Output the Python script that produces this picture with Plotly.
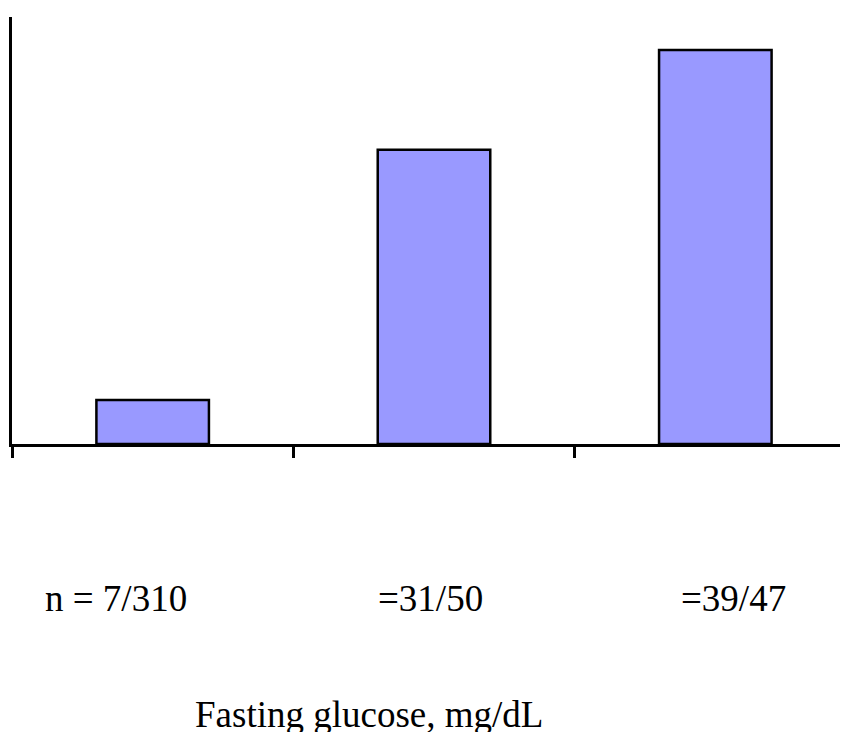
import plotly.graph_objects as go

categories = [0, 1, 2]
values = [10.3, 68.9, 92.3]
group_labels = ["n = 7/310", "=31/50", "=39/47"]
x_title = "Fasting glucose, mg/dL"

# page body has an 8px margin; figure is sized to fill the rest of the window
OFF = 8
W, H = 848 - OFF, 732 - OFF
L, R, T, B = 12 - OFF, 0, 17 - OFF, 288
cat_px = 281.33
plot_w = W - L - R
plot_h = H - T - B


def px_x(page_x):
    return (page_x - OFF - L) / plot_w


def px_y(page_y):
    return (T + plot_h - (page_y - OFF)) / plot_h


fig = go.Figure()
fig.add_trace(go.Bar(
    x=categories, y=values, width=0.4,
    marker=dict(color="#9999FF", line=dict(color="black", width=2.5)),
    hoverinfo="skip",
))

font = dict(family="Liberation Serif, Times New Roman, serif", size=37, color="black")

label_px = [115.5, 430.5, 733.5]
anns = []
for t, px in zip(group_labels, label_px):
    anns.append(dict(text=t, x=px_x(px), xref="paper", y=px_y(598), yref="paper",
                     xanchor="center", yanchor="middle", showarrow=False, font=font))
anns.append(dict(text=x_title, x=px_x(368.5), xref="paper", y=px_y(714), yref="paper",
                 xanchor="center", yanchor="middle", showarrow=False, font=font))

fig.update_layout(
    width=W, height=H,
    margin=dict(l=L, r=R, t=T, b=B, pad=0),
    paper_bgcolor="white", plot_bgcolor="white",
    showlegend=False,
    annotations=anns,
    xaxis=dict(range=[-0.5, -0.5 + plot_w / cat_px], showgrid=False, zeroline=False,
               showline=True, linecolor="black", linewidth=3,
               tickmode="array", tickvals=[-0.5, 0.5, 1.5], ticktext=["", "", ""],
               ticks="outside", ticklen=11, tickwidth=3, tickcolor="black"),
    yaxis=dict(range=[0, 100], showgrid=False, zeroline=False,
               showline=True, linecolor="black", linewidth=3,
               showticklabels=False, ticks=""),
)

fig.write_html("out.html")
